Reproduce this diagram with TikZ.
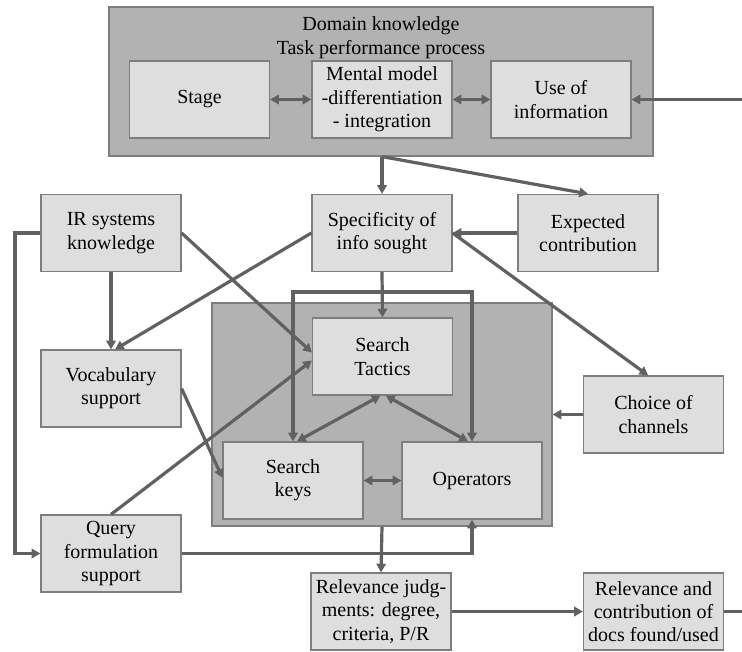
\documentclass[tikz,border=0pt]{standalone}
\usepackage{fontspec}
\setmainfont{Liberation Serif}
\usetikzlibrary{arrows.meta}
\definecolor{panelfill}{HTML}{B2B2B2}
\definecolor{boxfill}{HTML}{DEDEDE}
\definecolor{edgegray}{HTML}{7E7E7E}
\definecolor{linkgray}{HTML}{616161}

\begin{document}
\begin{tikzpicture}[x=0.75pt,y=-0.75pt,
  panel/.style={draw=edgegray, fill=panelfill, line width=0.9pt, inner sep=0pt},
  box/.style={draw=edgegray, fill=boxfill, line width=0.9pt,
    minimum width=105pt, minimum height=57.75pt, inner sep=0pt,
    align=center, font=\fontsize{15pt}{17.5pt}\selectfont},
  label/.style={align=center, inner sep=0pt, font=\fontsize{15pt}{18pt}\selectfont},
  tip/.style={-{Triangle[length=6.5pt,width=7pt]}},
  link/.style={draw=linkgray, line width=2.4pt, tip},
  twoway/.style={draw=linkgray, line width=2.4pt,
    {Triangle[length=6.5pt,width=7pt]}-{Triangle[length=6.5pt,width=7pt]}},
  plain/.style={draw=linkgray, line width=2.4pt}
]
\useasboundingbox (0,0) rectangle (742,651);

% domain knowledge panel
\node[panel, minimum width=408pt, minimum height=111.75pt] (domain) at (381,81.5) {};
\node[label] (title) at (381,38) {Domain knowledge\\Task performance process};
\node[box] (stage)  at (199.5,99.5) {Stage};
\node[box] (mental) at (382,99.5) {Mental model\\-differentiation\\- integration};
\node[box] (use)    at (561,99.5) {Use of\\information};

% second row
\node[box] (irk)    at (111,233) {IR systems\\knowledge};
\node[box] (spec)   at (382,233) {Specificity of\\info sought};
\node[box] (expect) at (588,233) {Expected\\contribution};

% search panel
\node[panel, minimum width=255pt, minimum height=167.25pt] (searchpanel) at (382,414.5) {};
\node[box] (tactics) at (382.5,356.5) {Search\\Tactics};
\node[box] (keys)    at (293,480.5) {Search\\keys};
\node[box] (ops)     at (472,480.5) {Operators};

% side boxes
\node[box] (vocab)  at (111,388.5) {Vocabulary\\support};
\node[box] (choice) at (653.5,414.5) {Choice of\\channels};
\node[box] (query)  at (111,553.5) {Query\\formulation\\support};

% bottom row
\node[box] (judge)  at (381,611.5) {Relevance judg-\\ments: degree,\\criteria, P/R};
\node[box] (contrib) at (653.5,611.5) {Relevance and\\contribution of\\docs found/used};

% loose ends of the outer feedback loop
\coordinate (loopin)  at (742,99.5);
\coordinate (loopout) at (742,611.5);
\coordinate (split)   at (383,292);
\coordinate (leftrail) at (15,233);

% links inside the domain panel
\draw[twoway] (stage.east) -- (mental.west);
\draw[twoway] (mental.east) -- (use.west);
\draw[link] (loopin) -- (use.east);

% from the domain panel
\draw[link] (spec.north |- domain.south) -- (spec.north);
\draw[link] (spec.north |- domain.south) -- (expect.north);
\draw[link] (expect.west) -- (spec.east);
\draw[link] (spec.east) -- ([xshift=-4pt]choice.north);

% knowledge and support
\draw[link] (spec.west) -- ([xshift=3pt]vocab.north);
\draw[link] (irk.south) -- (vocab.north);
\draw[link] (irk.east) -- ([yshift=3pt]tactics.west);
\draw[link] (query.north) -- ([yshift=-3pt]tactics.west);
\draw[link] (vocab.east) -- ([yshift=2pt]keys.west);

% into the search panel
\draw[link] (spec.south) -- (tactics.north);
\draw[link] (split) -| (keys.north);
\draw[link] (split) -| (ops.north);
\draw[twoway] ([xshift=-1.5pt]tactics.south) -- ([xshift=3pt]keys.north);
\draw[twoway] ([xshift=2.5pt]tactics.south) -- ([xshift=-3pt]ops.north);
\draw[twoway] (keys.east) -- (ops.west);
\draw[link] (choice.west) -- (searchpanel.east);

% left rail from IR knowledge to query support
\draw[link] (irk.west) -- (leftrail) |- (query.west);
\draw[link] (query.east) -| (ops.south);

% results
\draw[link] (searchpanel.south) -- (judge.north);
\draw[link] (judge.east) -- (contrib.west);
\draw[plain] (contrib.east) -- (loopout);
\end{tikzpicture}
\end{document}
